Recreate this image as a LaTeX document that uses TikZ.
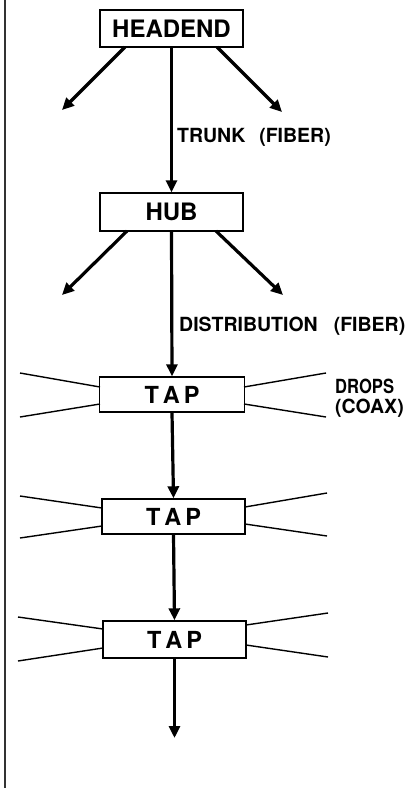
\documentclass[tikz,border=0pt]{standalone}
\usepackage{fontspec}
\setmainfont{TeX Gyre Heros}
\usetikzlibrary{arrows.meta}
\begin{document}
\begin{tikzpicture}[x=1pt,y=-1pt,
  box/.style={draw,line width=1.4pt,minimum width=143pt,inner sep=0pt,font=\fontsize{24}{24}\selectfont\bfseries},
  tapbox/.style={box,minimum height=35pt,font=\fontsize{23.5}{24}\selectfont\bfseries},
  arr/.style={line width=3.2pt,-{Triangle[length=12pt,width=11pt]}},
  drop/.style={line width=1.4pt},
  lbl/.style={inner sep=0pt,font=\fontsize{19.5}{20}\selectfont\bfseries}]
\useasboundingbox (0,0) rectangle (409,788);
\draw[line width=1.3pt,black!80] (5,0) -- (5,788);
% boxes
\node[box,minimum height=37pt] (head) at (171.5,28.5) {HEADEND};
\node[box,minimum height=38pt] (hub) at (171.5,212) {HUB};
\node[tapbox,minimum width=145pt] (tap1) at (172,394.5) {T\kern4pt A\kern4pt P};
\node[tapbox] (tap2) at (173.5,516.5) {T\kern4pt A\kern4pt P};
\node[tapbox,minimum height=37pt] (tap3) at (174.5,639.5) {T\kern4pt A\kern4pt P};
% headend branches
\coordinate (hls) at (125,47);
\coordinate (hrs) at (217,47);
\coordinate (hlt) at (62,110);
\coordinate (hrt) at (282,112);
\draw[arr] (hls) -- (hlt);
\draw[arr] (hrs) -- (hrt);
\draw[arr] (head.south) -- (hub.north);
\node[lbl,anchor=base west] (trunk) at (177,142) {TRUNK\hspace{14pt}(FIBER)};
% hub branches
\coordinate (uls) at (127,231);
\coordinate (urs) at (216,231);
\coordinate (ult) at (62,295);
\coordinate (urt) at (283,295);
\draw[arr] (uls) -- (ult);
\draw[arr] (urs) -- (urt);
\draw[arr] (hub.south) -- (tap1.north);
\node[lbl,anchor=base west] (dist) at (179,331) {DISTRIBUTION\hspace{16pt}(FIBER)};
% tap chain
\draw[arr] (tap1.south) -- (tap2.north);
\draw[arr] (tap2.south) -- (tap3.north);
\coordinate (end) at (174.5,738);
\draw[arr] (tap3.south) -- (end);
% drops tap1
\coordinate (a1) at (20,373); \coordinate (a2) at (20,417);
\coordinate (a3) at (326,373); \coordinate (a4) at (326,417);
\draw[drop] (a1) -- (100,387);
\draw[drop] (a2) -- (100,404);
\draw[drop] (a3) -- (244,387);
\draw[drop] (a4) -- (244,404);
\node[lbl,anchor=base west] (dr1) at (335,393) {\addfontfeature{FakeStretch=0.85}DROPS};
\node[lbl,anchor=base west] (dr2) at (335,413) {(COAX)};
% drops tap2
\coordinate (b1) at (20,496); \coordinate (b2) at (20,538);
\coordinate (b3) at (327,493); \coordinate (b4) at (327,536);
\draw[drop] (b1) -- (102,508);
\draw[drop] (b2) -- (102,526);
\draw[drop] (b3) -- (245,507);
\draw[drop] (b4) -- (245,524);
% drops tap3
\coordinate (c1) at (18,617); \coordinate (c2) at (18,661);
\coordinate (c3) at (328,613); \coordinate (c4) at (328,657);
\draw[drop] (c1) -- (103,629);
\draw[drop] (c2) -- (103,648);
\draw[drop] (c3) -- (246,625);
\draw[drop] (c4) -- (246,645);
\end{tikzpicture}
\end{document}
